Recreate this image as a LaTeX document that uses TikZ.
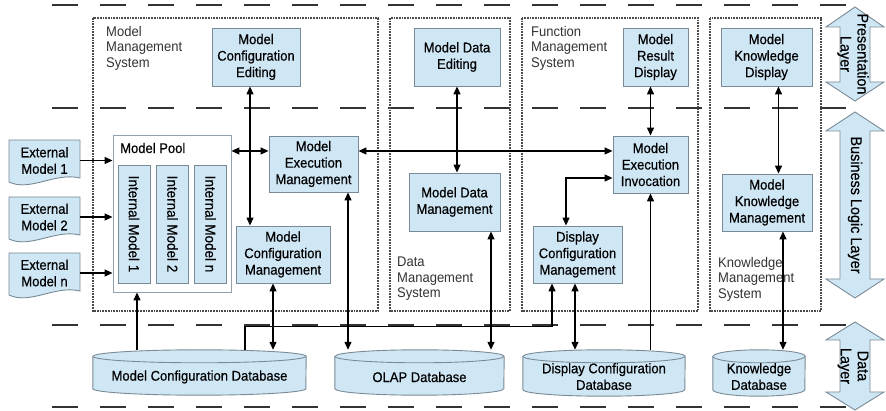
\documentclass[tikz,border=0pt]{standalone}
\usepackage{fontspec}
\setmainfont{Liberation Sans}
\newfontfamily\boxfont[FakeStretch=0.93,FakeBold=0.5]{Liberation Sans}
\newfontfamily\labfont[FakeStretch=0.93]{Liberation Sans}
\usetikzlibrary{arrows.meta,calc}
\definecolor{boxfill}{HTML}{CFE7F5}
\definecolor{boxline}{HTML}{7A8A96}
\definecolor{dotgray}{HTML}{4A4A4A}
\definecolor{dashgray}{HTML}{333333}
\definecolor{labgray}{HTML}{333333}
\newcommand\dbcyl[2]{%
  \filldraw[cylshape] ([yshift=-6.5pt]#1.north west) -- ([yshift=6.5pt]#1.south west)
    arc[start angle=180,end angle=360,x radius=#2pt,y radius=6.5pt]
    -- ([yshift=-6.5pt]#1.north east)
    arc[start angle=0,end angle=180,x radius=#2pt,y radius=6.5pt] -- cycle;
  \draw[cylshape] ([yshift=-6.5pt]#1.north west) arc[start angle=180,end angle=360,x radius=#2pt,y radius=6.5pt];}
\newcommand\extdoc[1]{%
  \filldraw[docshape] (9,#1) -- (80,#1) -- (80,#1+38) .. controls (55,#1+32) and (30,#1+52) .. (9,#1+42) -- cycle;}
\newcommand\layerarrow[4]{%
  \filldraw[docshape] (855,#1) -- (884,#2) -- (870,#2) -- (870,#3) -- (884,#3) -- (855,#4)
    -- (826,#3) -- (840,#3) -- (840,#2) -- (826,#2) -- cycle;}
\begin{document}
\begin{tikzpicture}[x=1pt,y=-1pt,
  box/.style={draw=boxline, fill=boxfill, line width=0.9pt, align=center, inner sep=0pt,
    font=\boxfont\fontsize{14}{16.5}\selectfont, text=black},
  imbox/.style={box, rotate=-90, minimum width=118pt, minimum height=32pt, font=\boxfont\fontsize{14.5}{16}\selectfont},
  geom/.style={draw=none, inner sep=0pt},
  plaintext/.style={inner sep=0pt, align=center, font=\boxfont\fontsize{14}{16.5}\selectfont, text=black},
  syslabel/.style={inner sep=0pt, align=left, anchor=north west, font=\labfont\fontsize{14}{15.5}\selectfont, text=labgray},
  laylabel/.style={inner sep=0pt, align=center, rotate=-90, font=\boxfont\fontsize{15.5}{17}\selectfont, text=black},
  cylshape/.style={draw=boxline, fill=boxfill, line width=0.9pt},
  docshape/.style={draw=boxline, fill=boxfill, line width=0.9pt},
  sysbox/.style={draw=dotgray, line width=1.7pt, densely dotted},
  layersep/.style={draw=dashgray, line width=1.8pt, dash pattern=on 26pt off 22pt},
  conn2/.style={{Triangle[length=8pt,width=7pt]}-{Triangle[length=8pt,width=7pt]}, line width=1.3pt},
  conn1/.style={-{Triangle[length=8pt,width=7pt]}, line width=1.3pt}]
\useasboundingbox (0,0) rectangle (886,411);
\fill[white] (0,0) rectangle (886,411);

% layer separators
\foreach \yy in {5,108,325,407} \draw[layersep] (52,\yy) -- (846,\yy);

% system boundaries
\draw[sysbox] (93,18) rectangle (378,311);
\draw[sysbox] (390,18) rectangle (510,311);
\draw[sysbox] (522,18) rectangle (698,311);
\draw[sysbox] (710,18) rectangle (821,311);

\node[syslabel] (lmms) at (106,26) {Model\\Management\\System};
\node[syslabel] (ldms) at (397,257) {Data\\Management\\System};
\node[syslabel] (lfms) at (531,26) {Function\\Management\\System};
\node[syslabel] (lkms) at (718,257) {Knowledge\\Management\\System};

% layer arrows
\layerarrow{7}{27}{82}{101}
\layerarrow{112}{131}{279}{298}
\layerarrow{322}{340}{392}{410}
\node[laylabel] (lpres) at (853,54) {Presentation\\Layer};
\node[laylabel] (lbus) at (855,205) {Business Logic Layer};
\node[laylabel] (ldata) at (853,366) {Data\\Layer};

% presentation layer boxes
\node[box, minimum width=88pt, minimum height=58pt] (mce) at (256,57) {Model\\Configuration\\Editing};
\node[box, minimum width=86pt, minimum height=58pt] (mde) at (457,57) {Model Data\\Editing};
\node[box, minimum width=65pt, minimum height=58pt] (mrd) at (655.5,57) {Model\\Result\\Display};
\node[box, minimum width=91pt, minimum height=58pt] (mkd) at (766.5,57) {Model\\Knowledge\\Display};

% model pool
\node[draw=boxline!80, fill=white, line width=0.9pt, minimum width=118pt, minimum height=157pt] (pool) at (172,213.5) {};
\node[plaintext, anchor=west] (pooll) at (120,148) {Model Pool};
\node[imbox] (im1) at (134,224) {Internal Model 1};
\node[imbox] (im2) at (172.5,224) {Internal Model 2};
\node[imbox] (imn) at (210.5,224) {Internal Model n};

% external models
\extdoc{140}
\extdoc{197}
\extdoc{253}
\node[plaintext, minimum width=71pt, minimum height=36pt] (em1) at (44.5,160.5) {External\\Model 1};
\node[plaintext, minimum width=71pt, minimum height=36pt] (em2) at (44.5,217) {External\\Model 2};
\node[plaintext, minimum width=71pt, minimum height=36pt] (emn) at (44.5,273) {External\\Model n};

% business logic boxes
\node[box, minimum width=89pt, minimum height=56pt] (mem) at (313.5,164) {Model\\Execution\\Management};
\node[box, minimum width=94pt, minimum height=57pt] (mcm) at (283,254.5) {Model\\Configuration\\Management};
\node[box, minimum width=91pt, minimum height=58pt] (mdm) at (454.5,202) {Model Data\\Management};
\node[box, minimum width=75pt, minimum height=57pt] (mei) at (650.5,164.5) {Model\\Execution\\Invocation};
\node[box, minimum width=89pt, minimum height=57pt] (dcm) at (577.5,254.5) {Display\\Configuration\\Management};
\node[box, minimum width=90pt, minimum height=57pt] (mkm) at (767,202.5) {Model\\Knowledge\\Management};

% databases
\node[geom, minimum width=213pt, minimum height=45pt] (mcdb) at (199.5,372.5) {};
\node[geom, minimum width=169pt, minimum height=45pt] (olap) at (419.5,372.5) {};
\node[geom, minimum width=162pt, minimum height=46pt] (dcdb) at (604,373) {};
\node[geom, minimum width=92pt, minimum height=46pt] (kdb) at (759,373) {};
\dbcyl{mcdb}{106.5}
\dbcyl{olap}{84.5}
\dbcyl{dcdb}{81}
\dbcyl{kdb}{46}
\node[plaintext] (mcdbt) at ([yshift=-4.5pt]mcdb.center) {Model Configuration Database};
\node[plaintext] (olapt) at ([yshift=-4.5pt]olap.center) {OLAP Database};
\node[plaintext] (dcdbt) at ([yshift=-3.5pt]dcdb.center) {Display Configuration\\Database};
\node[plaintext] (kdbt) at ([yshift=-3.5pt]kdb.center) {Knowledge\\Database};

% connectors
\coordinate (a1) at ([xshift=-6pt]mce.south);
\draw[conn2] (a1) -- (a1 |- mcm.north);
\coordinate (b1) at ([yshift=13pt]mem.west);
\draw[conn2] (b1 -| pool.east) -- (b1);
\coordinate (c1) at ([yshift=13pt]mem.east);
\draw[conn2] (c1) -- (c1 -| mei.west);
\draw[conn2] (mde.south) -- (mde.south |- mdm.north);
\draw[conn2] (mei.north |- mrd.south) -- (mei.north);
\coordinate (f1) at ([xshift=12pt]mkd.south);
\draw[conn2] (f1) -- (f1 |- mkm.north);
\coordinate (g1) at ([xshift=16pt]mkm.south);
\draw[conn2] (g1) -- (g1 |- kdb.north);
\draw[conn2] ([xshift=-11.5pt]dcm.north) |- ([yshift=-13.5pt]mei.west);
\draw[conn1] (mei.south |- dcdb.north) -- (mei.south);
\coordinate (j0) at ([xshift=45.5pt]mcdb.north);
\coordinate (j1) at ([xshift=-25.5pt]dcm.south);
\draw[conn1] (j0) -- ++(0,-23) -| (j1);
\coordinate (k1) at ([xshift=-2.5pt]dcm.south);
\draw[conn2] (k1) -- (k1 |- dcdb.north);
\coordinate (l1) at ([xshift=-10pt]mcm.south);
\draw[conn2] (l1) -- (l1 |- mcdb.north);
\coordinate (m1) at ([xshift=-35pt]pool.south);
\draw[conn1] (m1 |- mcdb.north) -- (m1);
\coordinate (n1) at ([xshift=34.5pt]mem.south);
\draw[conn2] (n1) -- (n1 |- olap.north);
\coordinate (o1) at ([xshift=36.5pt]mdm.south);
\draw[conn2] (o1) -- (o1 |- olap.north);
\foreach \e in {em1,em2,emn} \draw[conn1] (\e.east) -- (\e.east -| pool.west);
\end{tikzpicture}
\end{document}
